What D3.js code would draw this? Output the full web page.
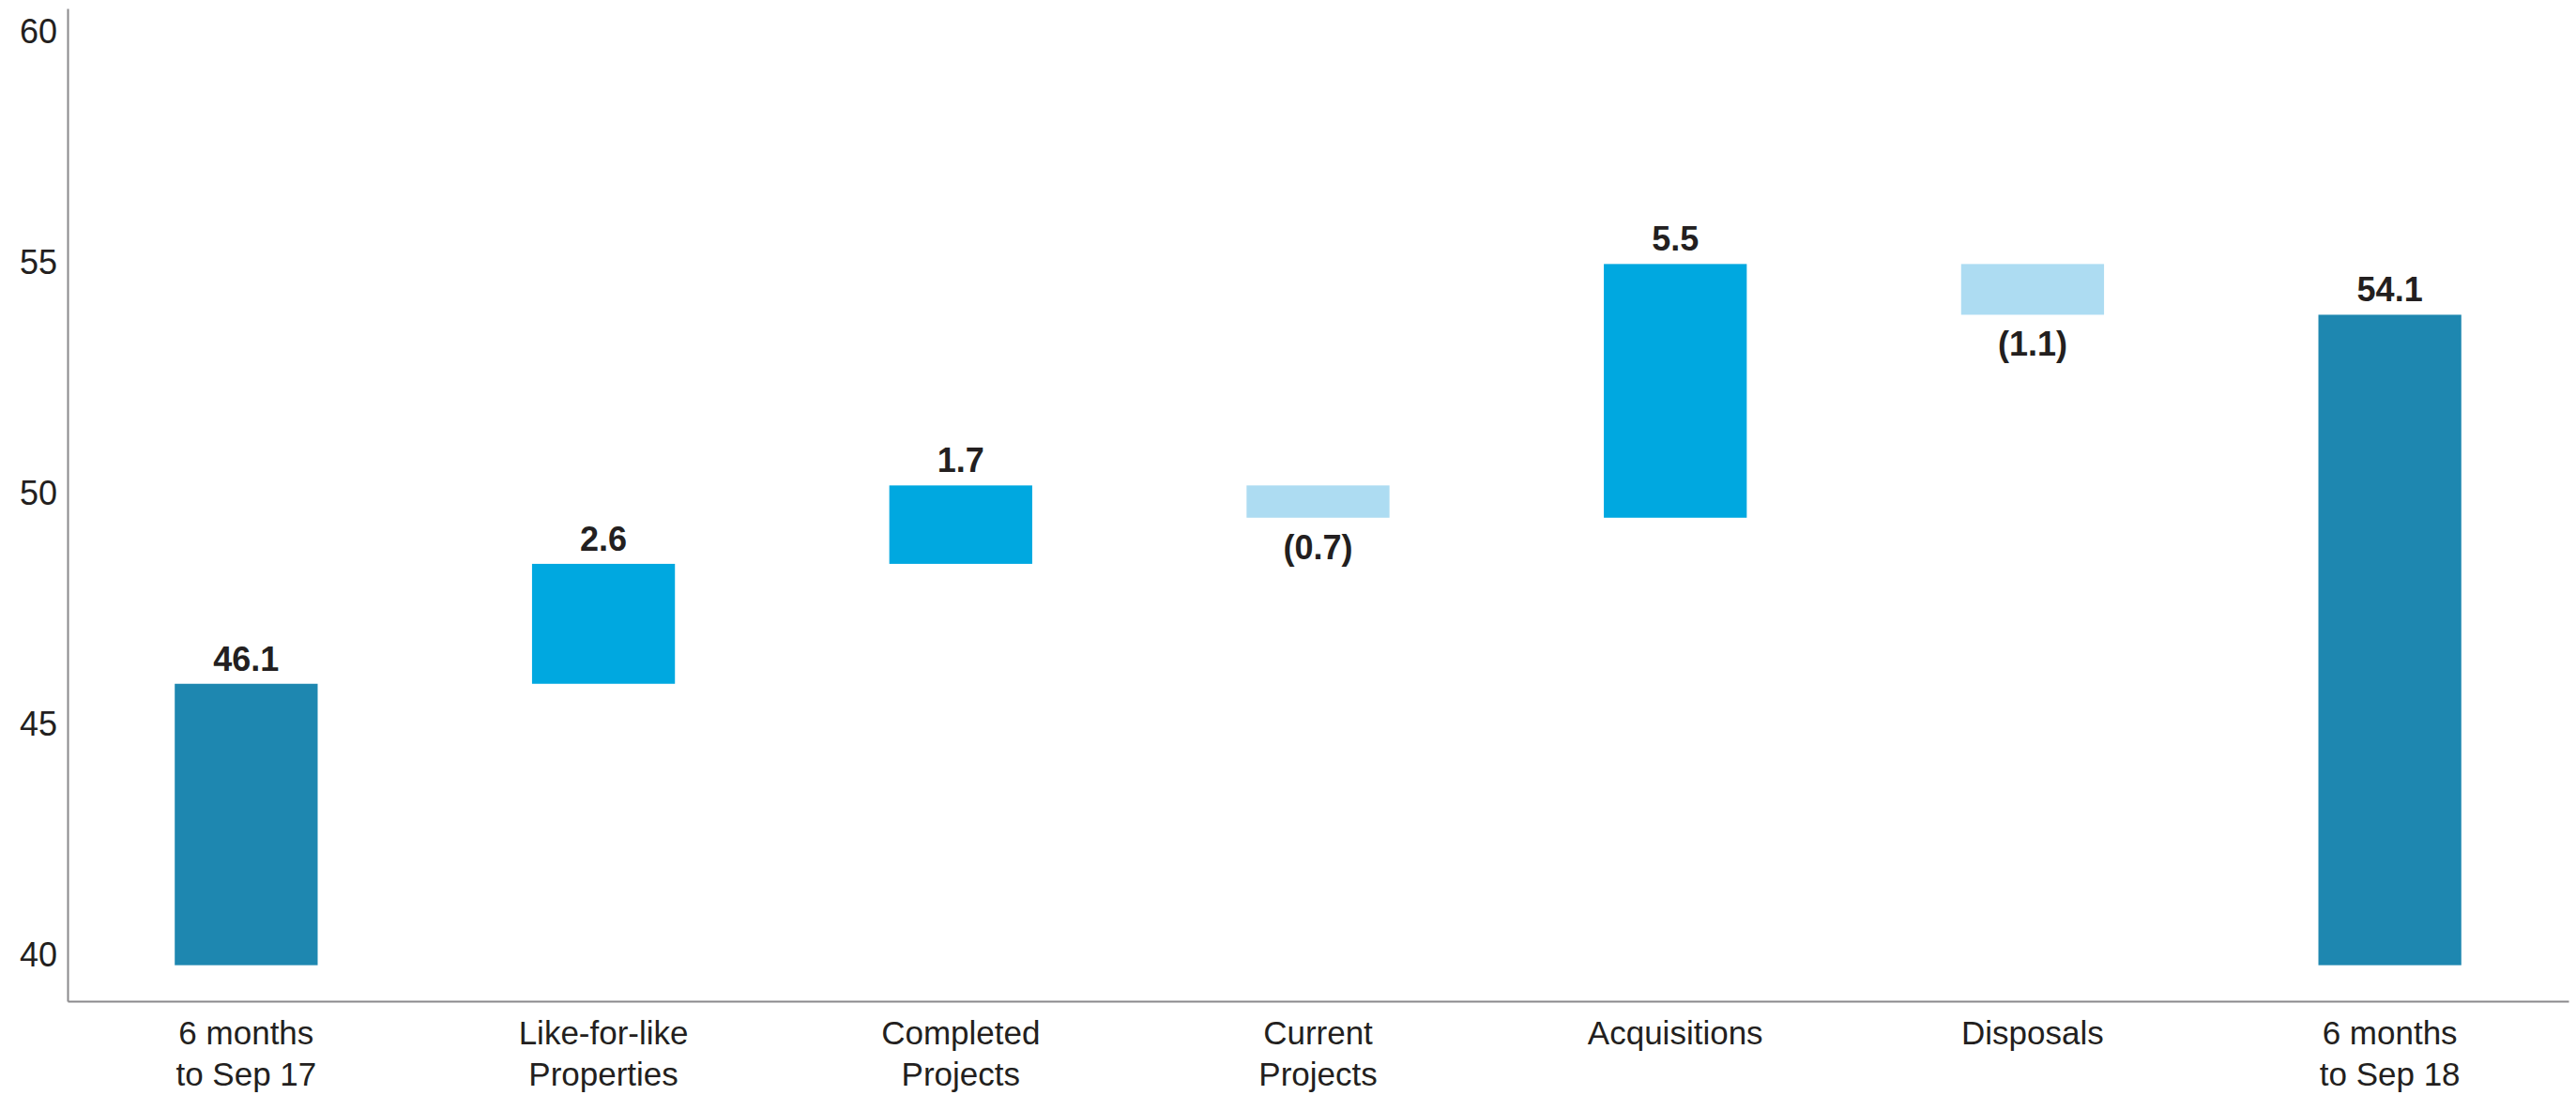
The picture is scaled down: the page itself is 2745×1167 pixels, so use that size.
<!DOCTYPE html>
<html>
<head>
<meta charset="utf-8">
<script src="https://cdn.jsdelivr.net/npm/d3@7"></script>
<style>
  body { margin: 0; background: #fff; }
  svg text { font-family: "Liberation Sans", Arial, sans-serif; fill: #231f20; }
</style>
</head>
<body>
<svg id="chart"></svg>
<script>
// Chart data
var categories = ["6 months\nto Sep 17", "Like-for-like\nProperties", "Completed\nProjects",
                  "Current\nProjects", "Acquisitions", "Disposals", "6 months\nto Sep 18"];
var values = [46.1, 2.6, 1.7, -0.7, 5.5, -1.1, 54.1];
var barTypes = ["total", "up", "up", "down", "up", "down", "total"];
var valueLabels = ["46.1", "2.6", "1.7", "(0.7)", "5.5", "(1.1)", "54.1"];
var yTicks = [40, 45, 50, 55, 60];

var width = 2745, height = 1167;
var plotLeft = 72, plotRight = 2737, plotTop = 9, plotBottom = 1067;

var svg = d3.select("#chart")
  .attr("width", width)
  .attr("height", height);

// Build the waterfall rows (start / end of each bar)
var running = 0;
var rows = categories.map(function(c, i) {
  var start, end;
  if (barTypes[i] == "total") {
    start = 40; end = values[i]; running = values[i];
  } else {
    start = running; end = running + values[i]; running = end;
  }
  return { cat: c, start: start, end: end, type: barTypes[i], label: valueLabels[i] };
});

// Scales
var xScale = d3.scaleBand()
  .domain(categories)
  .range([plotLeft, plotRight])
  .paddingInner(0.6)
  .paddingOuter(0.3);

var yScale = d3.scaleLinear()
  .domain([39.22, 60.74])
  .range([plotBottom, plotTop]);

var colorScale = d3.scaleOrdinal()
  .domain(["total", "up", "down"])
  .range(["#1e87b0", "#00a8e0", "#addcf2"]);

// Y axis
var yAxis = svg.append("g")
  .attr("transform", "translate(" + plotLeft + ",0)")
  .call(d3.axisLeft(yScale).tickValues(yTicks).tickSize(0).tickSizeOuter(0).tickPadding(11));
yAxis.select(".domain").attr("stroke", "#8a898c").attr("stroke-width", 2);
yAxis.selectAll(".tick text")
  .attr("y", -11)
  .style("font-family", "'Liberation Sans', Arial, sans-serif")
  .style("font-size", "36px")
  .style("fill", "#231f20");

// X axis
var xAxis = svg.append("g")
  .attr("transform", "translate(0," + plotBottom + ")")
  .call(d3.axisBottom(xScale).tickSize(0).tickSizeOuter(0).tickFormat(""));
xAxis.select(".domain").attr("stroke", "#8a898c").attr("stroke-width", 2);

xAxis.selectAll(".tick").each(function(d) {
  var lines = d.split("\n");
  var t = d3.select(this).append("text")
    .attr("text-anchor", "middle")
    .style("font-size", "35px")
    .style("fill", "#231f20");
  lines.forEach(function(line, j) {
    t.append("tspan")
      .attr("x", 0)
      .attr("y", 46 + j * 44)
      .text(line);
  });
});

// Bars
svg.selectAll(".bar")
  .data(rows)
  .enter().append("rect")
  .attr("class", "bar")
  .attr("x", function(d) { return xScale(d.cat); })
  .attr("width", xScale.bandwidth())
  .attr("y", function(d) { return yScale(Math.max(d.start, d.end)); })
  .attr("height", function(d) { return Math.abs(yScale(d.start) - yScale(d.end)); })
  .style("fill", function(d) { return colorScale(d.type); });

// Value labels
svg.selectAll(".value")
  .data(rows)
  .enter().append("text")
  .attr("class", "value")
  .attr("x", function(d) { return xScale(d.cat) + xScale.bandwidth() / 2; })
  .attr("y", function(d) {
    if (d.type == "down") return yScale(Math.min(d.start, d.end)) + 44;
    return yScale(Math.max(d.start, d.end)) - 14;
  })
  .attr("text-anchor", "middle")
  .style("font-size", "36px")
  .style("font-weight", "bold")
  .text(function(d) { return d.label; });
</script>
</body>
</html>
